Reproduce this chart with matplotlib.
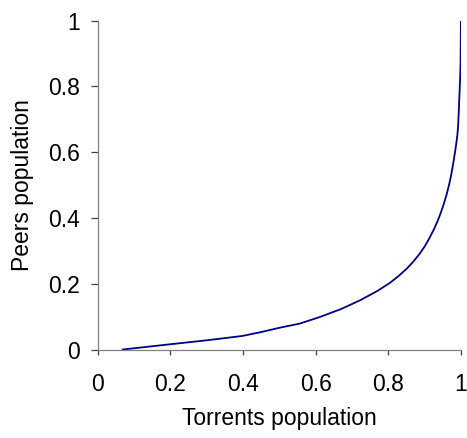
import numpy as np
import matplotlib.pyplot as plt

plt.rcParams['font.family'] = ['Liberation Sans', 'DejaVu Sans']

# cumulative share of torrents vs. cumulative share of peers
torrents = [0.069, 0.20, 0.30, 0.397, 0.45, 0.50, 0.557, 0.612, 0.67, 0.723, 0.77,
            0.805, 0.83, 0.85, 0.868, 0.885, 0.90, 0.912, 0.925, 0.936, 0.945,
            0.953, 0.961, 0.967, 0.972, 0.976, 0.980, 0.984, 0.987, 0.990,
            0.992, 0.994, 0.996, 0.998, 0.999, 1.0]
peers = [0.0, 0.016, 0.028, 0.041, 0.053, 0.066, 0.079, 0.099, 0.123, 0.150, 0.178,
         0.203, 0.225, 0.245, 0.266, 0.289, 0.313, 0.336, 0.364, 0.391, 0.417,
         0.443, 0.473, 0.499, 0.524, 0.548, 0.574, 0.602, 0.625, 0.650,
         0.675, 0.722, 0.776, 0.83, 0.87, 1.0]

ticks = [0, 0.2, 0.4, 0.6, 0.8, 1]
tick_labels = ['0', '0.2', '0.4', '0.6', '0.8', '1']

fig = plt.figure(figsize=(4.67, 4.38), dpi=100)
ax = fig.add_axes([0.209, 0.202, 0.778, 0.751])

ax.plot(torrents, peers, c='#000080', lw=1.3)

ax.set_xlim(0, 1)
ax.set_ylim(0, 1)
ax.set_xticks(ticks)
ax.set_xticklabels(tick_labels)
ax.set_yticks(ticks)
ax.set_yticklabels(tick_labels)

for side in ['top', 'right']:
    ax.spines[side].set_visible(False)
for side in ['left', 'bottom']:
    ax.spines[side].set_color('#808080')
    ax.spines[side].set_linewidth(0.9)

ax.tick_params(axis='x', direction='out', length=3.6, width=0.9, color='#404040',
               pad=13, labelsize=16.5)
ax.tick_params(axis='y', direction='out', length=5, width=0.9, color='#404040',
               pad=8, labelsize=16.5)

ax.set_xlabel('Torrents population', fontsize=16.5, labelpad=8)
ax.set_ylabel('Peers population', fontsize=16.5, labelpad=10)

fig.savefig('out.png', dpi=100)
